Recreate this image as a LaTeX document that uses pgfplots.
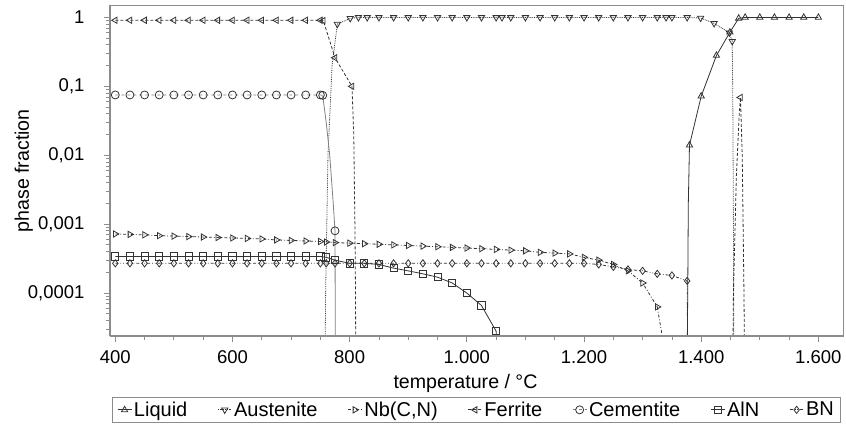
\documentclass[border=0pt]{standalone}
\usepackage{fontspec}
\setmainfont{Liberation Sans}
\usepackage{pgfplots}
\pgfplotsset{compat=1.18}
\definecolor{ln}{gray}{0.2}
\definecolor{ax}{gray}{0.55}
\begin{document}
\begin{tikzpicture}
\useasboundingbox (-110pt,-95pt) rectangle (736pt,336pt);
\begin{axis}[
  at={(0pt,0pt)}, anchor=south west,
  width=733pt, height=330.5pt, scale only axis,
  ymode=log, xmin=391, xmax=1642, ymin=2.38e-5, ymax=1.49,
  xtick={400,600,800,1000,1200,1400,1600},
  xticklabels={400,600,800,1.000,1.200,1.400,1.600},
  minor x tick num=3,
  ytick={0.0001,0.001,0.01,0.1,1},
  yticklabels={{0,0001},{0,001},{0,01},{0,1},1},
  minor ytick={3e-5,4e-5,5e-5,6e-5,7e-5,8e-5,9e-5,2e-4,3e-4,4e-4,5e-4,6e-4,7e-4,8e-4,9e-4,2e-3,3e-3,4e-3,5e-3,6e-3,7e-3,8e-3,9e-3,0.02,0.03,0.04,0.05,0.06,0.07,0.08,0.09,0.2,0.3,0.4,0.5,0.6,0.7,0.8,0.9},
  xtick pos=left, ytick pos=left,
  tick align=outside,
  major tick length=6pt, minor tick length=3.5pt,
  every tick/.style={ax, line width=0.8pt},
  axis line style={ax, line width=0.7pt},
  tick label style={font=\fontsize{18.5}{20}\selectfont},
  xticklabel style={yshift=-5pt},
  yticklabel style={xshift=-16pt},
  xlabel={temperature / °C},
  ylabel={phase fraction},
  every axis x label/.style={at={(axis description cs:0.485,-0.142)}, anchor=center, font=\fontsize{19.6}{22}\selectfont},
  ylabel style={font=\fontsize{19.6}{22}\selectfont, yshift=-12pt},
  legend columns=7,
  legend style={at={(axis description cs:0.5,-0.1846)}, anchor=north, draw=ax, line width=0.7pt,
    font=\fontsize{20}{22}\selectfont, inner xsep=5pt, inner ysep=2.5pt,
    /tikz/every even column/.append style={column sep=28pt}},
  legend image code/.code={\draw[mark repeat=2,mark phase=2] plot coordinates {(0pt,0pt)(7pt,0pt)(14pt,0pt)};},
  every axis plot/.append style={line width=0.8pt, mark size=3.6pt},
  after end axis/.code={
    \draw[ax, line width=1.6pt] (rel axis cs:0,0) -- (rel axis cs:1,0);
    \draw[ax, line width=1.4pt] (rel axis cs:0,0) -- (rel axis cs:0,1);
  },
]
% Liquid
\addplot[ln, solid, mark=triangle, mark options={solid, fill=white}] coordinates {
(1380,0.014)(1400,0.072)(1426,0.28)(1449,0.61)(1464,0.97)(1475,1.0)(1500,1.0)(1525,1.0)(1550,1.0)(1575,1.0)(1600,1.0)};
\addlegendentry{Liquid}
\addplot[ln, solid, forget plot] coordinates {(1375,1e-6)(1377,1e-4)(1378,0.002)(1380,0.014)};
% Austenite
\addplot[ln, densely dotted, mark=triangle, mark options={solid, fill=white, rotate=180}] coordinates {
(779,0.8)(801,0.97)(815,1.0)(830,1.0)(850,1.0)(875,1.0)(900,1.0)(925,1.0)(950,1.0)(975,1.0)(1000,1.0)(1025,1.0)(1050,1.0)(1060,1.0)(1075,1.0)(1100,1.0)(1125,1.0)(1150,1.0)(1175,1.0)(1200,1.0)(1225,1.0)(1250,1.0)(1275,1.0)(1300,1.0)(1325,1.0)(1340,1.0)(1350,1.0)(1376,1.0)(1399,0.98)(1422,0.82)(1448,0.6)(1453,0.45)};
\addlegendentry{Austenite}
\addplot[ln, densely dotted, forget plot] coordinates {(757,1e-6)(759,1e-4)(763,0.01)(770,0.2)(779,0.8)};
\addplot[ln, densely dotted, forget plot] coordinates {(1453,0.45)(1454,0.05)(1455,1e-3)(1456,1e-6)};
% Nb(C,N)
\addplot[ln, dash dot, mark=triangle, mark options={solid, fill=white, rotate=-90}] coordinates {
(400,0.00072)(425,0.00071)(450,0.00070)(475,0.00068)(500,0.00067)(525,0.00066)(550,0.00065)(575,0.00064)(600,0.00063)(625,0.00062)(650,0.00061)(675,0.00059)(700,0.00058)(725,0.00057)(750,0.00056)(760,0.00055)(775,0.00054)(800,0.00053)(825,0.00052)(850,0.00051)(875,0.00050)(900,0.00049)(925,0.00048)(950,0.00047)(975,0.00046)(1000,0.00045)(1025,0.00044)(1050,0.00043)(1075,0.00042)(1100,0.00041)(1125,0.00039)(1150,0.00038)(1175,0.00037)(1200,0.00033)(1225,0.00030)(1250,0.00026)(1275,0.00021)(1300,0.00014)(1325,6.3e-5)};
\addlegendentry{Nb(C,N)}
\addplot[ln, dash dot, forget plot] coordinates {(1325,6.3e-5)(1335,2e-5)(1340,1e-6)};
% Ferrite
\addplot[ln, densely dashed, mark=triangle, mark options={solid, fill=white, rotate=90}] coordinates {
(400,0.91)(425,0.91)(450,0.91)(475,0.91)(500,0.91)(525,0.91)(550,0.91)(575,0.91)(600,0.91)(625,0.91)(650,0.91)(675,0.91)(700,0.91)(725,0.91)(750,0.91)(755,0.9)(775,0.26)(804,0.1)};
\addlegendentry{Ferrite}
\addplot[ln, densely dashed, forget plot] coordinates {(804,0.1)(807,0.02)(809,1e-3)(810,1e-4)(811,1e-6)};
\addplot[ln, densely dashed, forget plot] coordinates {(1453,1e-6)(1455,1e-4)(1460,0.005)(1465,0.04)(1467,0.069)(1470,0.01)(1473,1e-4)(1475,1e-6)};
\addplot[ln, only marks, mark=triangle, mark options={solid, fill=white, rotate=90}, forget plot] coordinates {(1467,0.069)};
% Cementite
\addplot[gray, dashed, mark=o, mark options={solid, ln, fill=white}, mark size=4pt] coordinates {
(400,0.075)(425,0.075)(450,0.075)(475,0.075)(500,0.075)(525,0.075)(550,0.075)(575,0.075)(600,0.075)(625,0.075)(650,0.075)(675,0.075)(700,0.075)(725,0.075)(750,0.075)(754,0.074)};
\addlegendentry{Cementite}
\addplot[gray, solid, forget plot] coordinates {(754,0.074)(760,0.03)(766,0.01)(772,0.002)(775,0.0008)(776,1e-6)};
\addplot[gray, only marks, mark=o, mark options={solid, ln, fill=white}, mark size=4pt, forget plot] coordinates {(775,0.0008)};
% AlN
\addplot[ln, solid, mark=square, mark options={solid, fill=white}] coordinates {
(400,0.00034)(425,0.00034)(450,0.00034)(475,0.00034)(500,0.00034)(525,0.00034)(550,0.00034)(575,0.00034)(600,0.00034)(625,0.00034)(650,0.00034)(675,0.00034)(700,0.00034)(725,0.00034)(750,0.00034)(760,0.00033)(775,0.0003)(800,0.00027)(825,0.00027)(850,0.00026)(875,0.00023)(900,0.00021)(925,0.00019)(950,0.00017)(975,0.00014)(1000,0.0001)(1025,6.6e-5)(1050,2.8e-5)};
\addlegendentry{AlN}
\addplot[ln, solid, forget plot] coordinates {(1050,2.8e-5)(1052,1e-5)(1053,1e-6)};
% BN
\addplot[ln, dash dot dot, mark=diamond, mark options={solid, fill=white}] coordinates {
(400,0.00027)(425,0.00027)(450,0.00027)(475,0.00027)(500,0.00027)(525,0.00027)(550,0.00027)(575,0.00027)(600,0.00027)(625,0.00027)(650,0.00027)(675,0.00027)(700,0.00027)(725,0.00027)(750,0.00027)(760,0.00027)(775,0.00027)(800,0.00027)(825,0.00027)(850,0.00027)(875,0.00027)(900,0.00027)(925,0.00027)(950,0.00027)(975,0.00027)(1000,0.00027)(1025,0.00027)(1050,0.00027)(1075,0.00027)(1100,0.00027)(1125,0.00027)(1150,0.00027)(1175,0.00027)(1200,0.00027)(1225,0.00026)(1250,0.00024)(1275,0.00022)(1300,0.00021)(1325,0.00019)(1350,0.00018)(1376,0.00015)};
\addlegendentry{BN}
\addplot[ln, dash dot dot, forget plot] coordinates {(1376,0.00015)(1377,1e-5)(1378,1e-6)};
\end{axis}
\end{tikzpicture}
\end{document}
